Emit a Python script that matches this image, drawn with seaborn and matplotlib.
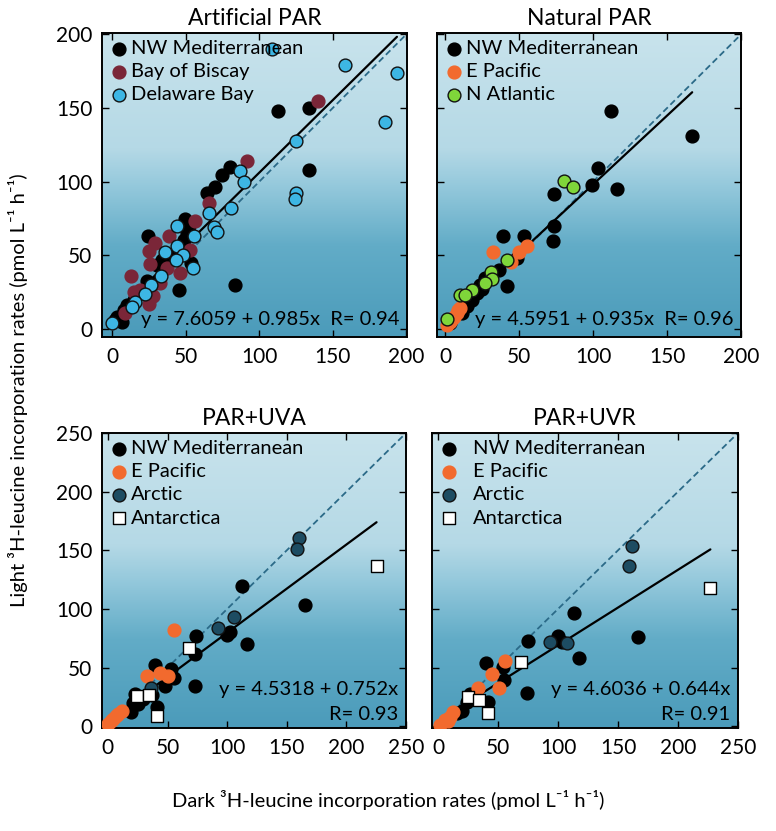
import numpy as np
import pandas as pd
import seaborn as sns
import matplotlib
matplotlib.use("Agg")
from matplotlib import pyplot as plt
from matplotlib.colors import LinearSegmentedColormap

sns.set_theme(style="ticks")
plt.rcParams['font.family'] = ['Lato', 'DejaVu Sans']
plt.rcParams['text.color'] = 'black'
plt.rcParams['xtick.color'] = 'black'
plt.rcParams['ytick.color'] = 'black'

# ---- Artificial PAR
art_med_x = [112.7, 134, 134, 83.7, 45.6, 24.3, 79.8, 74.5, 70, 64.8, 49.7, 50.8, 48.5, 53.5, 39.5,
             33.8, 30.4, 29.3, 23.6, 20.2, 14.5, 10, 8, 3.2, 6.6, 2, 52]
art_med_y = [148.3, 150, 108, 30, 26.5, 62.8, 109.7, 104.3, 96.4, 92.3, 74.8, 65.1, 60.5, 44.7, 49.2,
             47, 43.5, 31, 32.2, 24.3, 19.7, 16.3, 13, 8.4, 4.5, 6.1, 70]
art_bis_x = [139.7, 92, 66, 56, 38.3, 29.3, 24.8, 52.6, 37.2, 46.3, 12.9, 28, 24.8, 19, 8.8, 14.5, 32.6, 26]
art_bis_y = [155, 113.8, 85.5, 73, 62.8, 58.3, 52.6, 53.7, 41.3, 37.9, 35.6, 22, 16.8, 26.5, 10.7, 25, 31, 44]
art_del_x = [109, 158.5, 193.7, 185.7, 125, 125, 124.5, 87, 89.8, 81, 66, 69, 71.2, 55.3, 44, 44, 48,
             43.5, 55, 35.6, 33, 26.3, 22.4, 15.6, 13.4, 0]
art_del_y = [190, 179, 174, 140.4, 127.4, 92.3, 88.2, 107, 99.5, 82, 79, 69, 66, 63.3, 69.6, 56, 50.3,
             47, 41.3, 52, 35.6, 29.5, 23.8, 18.1, 14.7, 4]

# ---- Natural PAR
nat_med_x = [112, 167, 103.6, 99.5, 116.4, 73.9, 73.9, 73.2, 39.4, 53.6, 41.7, 48.9, 36.5, 27, 23.6,
             21.4, 18, 14.6, 11.3, 3.4, 25]
nat_med_y = [148.3, 131.3, 109.3, 97.5, 95, 91.8, 69.6, 59.9, 62.8, 62.8, 28.8, 48.1, 40.1, 34.5, 29.9,
             24.3, 19.7, 15.2, 10.7, 3.9, 27]
nat_pac_x = [32.6, 50, 55.6, 44.4, 10.1, 8, 5.9, 3.6, 1.4, 9, 4.5]
nat_pac_y = [51.9, 51.9, 56.5, 45.1, 14.1, 10.7, 8.4, 5, 2.7, 12.5, 6.5]
nat_atl_x = [80.4, 86.7, 42, 30.9, 31.5, 18, 10.1, 13.5, 1.1, 27]
nat_atl_y = [100.7, 96.1, 47, 38.6, 33.8, 26.5, 22.7, 23, 6.6, 31]

# ---- PAR+UVA
uva_med_x = [112.2, 165.6, 116.4, 73.9, 73.3, 73.3, 99.7, 102.5, 39.2, 53, 55, 48, 36.9, 41.4,
             22.5, 25.3, 19.2, 21, 29.4]
uva_med_y = [119.3, 103.5, 70, 76.6, 62, 34, 78, 80.8, 52.1, 49.2, 40.8, 34.4, 26.7, 16.6,
             27.3, 19.4, 12, 20, 23]
uva_pac_x = [55, 33, 43.3, 50.3, 11.4, 8.6, 4.4, 0.3, 2.5, 6.5]
uva_pac_y = [82.5, 42.5, 45.5, 43, 13.2, 10.5, 6.3, 2.1, 4.2, 8.5]
uva_arc_x = [160, 158.6, 105.8, 91.9, 36.4]
uva_arc_y = [160.2, 151.2, 93, 84, 33]
uva_ant_x = [225.3, 67.8, 24.7, 34.2, 41.1]
uva_ant_y = [136.5, 66.5, 25.5, 27, 9]

# ---- PAR+UVR
uvr_med_x = [113.3, 166.9, 117.8, 75.3, 73.9, 100.3, 103, 40, 53.9, 55.3, 41.9, 26.7, 23.9, 19.7, 15.6]
uvr_med_y = [96.9, 75.8, 58.3, 72.4, 28.7, 77.2, 71.5, 54.1, 50.4, 39.2, 20.9, 27.9, 20.9, 13, 11]
uvr_pac_x = [55.8, 44.7, 33.6, 50.8, 12.8, 10, 5.8, 1.7, 8.6]
uvr_pac_y = [55.5, 44.2, 33, 33, 12.4, 8.2, 5.4, 1.5, 4.5]
uvr_arc_x = [161.9, 159.4, 93.3, 107.2]
uvr_arc_y = [154, 136.5, 71.5, 71]
uvr_ant_x = [227, 68.9, 25.3, 34.4, 41.9]
uvr_ant_y = [118, 54.6, 25.1, 22.8, 11.5]

titles = ["Artificial PAR", "Natural PAR", "PAR+UVA", "PAR+UVR"]
intercepts = [7.6059, 4.5951, 4.5318, 4.6036]
slopes = [0.985, 0.935, 0.752, 0.644]
r_values = [0.94, 0.96, 0.93, 0.91]

# face, edge, marker
styles = {
    "NW Mediterranean": ("black", "black", "o"),
    "Bay of Biscay": ("#7a2638", "#7a2638", "o"),
    "Delaware Bay": ("#3db6e4", "#111111", "o"),
    "E Pacific": ("#f26a2e", "#f26a2e", "o"),
    "N Atlantic": ("#7fd63a", "#111111", "o"),
    "Arctic": ("#1d4c62", "#111111", "o"),
    "Antarctica": ("white", "black", "s"),
}

panels = [
    [("NW Mediterranean", art_med_x, art_med_y), ("Bay of Biscay", art_bis_x, art_bis_y),
     ("Delaware Bay", art_del_x, art_del_y)],
    [("NW Mediterranean", nat_med_x, nat_med_y), ("E Pacific", nat_pac_x, nat_pac_y),
     ("N Atlantic", nat_atl_x, nat_atl_y)],
    [("NW Mediterranean", uva_med_x, uva_med_y), ("E Pacific", uva_pac_x, uva_pac_y),
     ("Arctic", uva_arc_x, uva_arc_y), ("Antarctica", uva_ant_x, uva_ant_y)],
    [("NW Mediterranean", uvr_med_x, uvr_med_y), ("E Pacific", uvr_pac_x, uvr_pac_y),
     ("Arctic", uvr_arc_x, uvr_arc_y), ("Antarctica", uvr_ant_x, uvr_ant_y)],
]

boxes = [
    [0.1314, 0.5945, 0.3930, 0.3658],
    [0.5631, 0.5945, 0.3918, 0.3658],
    [0.1314, 0.1239, 0.3918, 0.3550],
    [0.5567, 0.1239, 0.3943, 0.3550],
]
limits = [(-7, 200.5, -5.5, 201), (-5.5, 200, -5.5, 201), (-5, 250, -1.5, 250), (-5, 250, -1.5, 250)]

bg = LinearSegmentedColormap.from_list(
    "bg", [(0, "#4b9bba"), (0.3, "#62acc7"), (0.5, "#95c9dc"), (0.62, "#b5d9e6"), (1, "#c8e3ec")])

fig = plt.figure(figsize=(7.76, 8.31), dpi=100)

for i, groups in enumerate(panels):
    ax = fig.add_axes(boxes[i])
    x0, x1, y0, y1 = limits[i]
    ax.imshow(np.linspace(0, 1, 256).reshape(-1, 1), cmap=bg, origin="lower", aspect="auto",
              extent=[0, 1, 0, 1], transform=ax.transAxes, zorder=0)

    # 1:1 line
    top = 200 if i < 2 else 250
    sns.lineplot(x=[0, top + 5], y=[0, top + 5], ax=ax, color="#2b6a88", lw=1.3,
                 linestyle=(0, (3.5, 2)), zorder=1)

    all_x = np.concatenate([np.asarray(g[1]) for g in groups])
    fit_x = np.array([all_x.min(), all_x.max()])
    sns.lineplot(x=fit_x, y=intercepts[i] + slopes[i] * fit_x, ax=ax, color="black", lw=1.6, zorder=2)

    for name, xs, ys in groups:
        face, edge, marker = styles[name]
        df = pd.DataFrame({"x": xs, "y": ys})
        sns.scatterplot(data=df, x="x", y="y", ax=ax, color=face, edgecolor=edge, marker=marker,
                        s=85 if marker == "o" else 70, linewidth=1.0, label=name, zorder=3)

    ax.set_xlim(x0, x1)
    ax.set_ylim(y0, y1)
    ticks = np.arange(0, top + 1, 50)
    ax.set_xticks(ticks)
    ax.set_yticks(ticks)
    ax.set_xlabel("")
    ax.set_ylabel("")
    ax.tick_params(direction="in", length=5, width=1, top=True, right=True,
                   labelsize=15, pad=7, labelleft=(i % 2 == 0))
    for sp in ax.spines.values():
        sp.set_linewidth(1.4)
        sp.set_color("black")
    ax.set_title(titles[i], fontsize=16.5, pad=6)

    ax.legend(loc="upper left", frameon=False, fontsize=14.5, handletextpad=0.1 if i < 3 else 0.7,
              labelspacing=0.3, borderaxespad=0.15, borderpad=0.2, handlelength=1.0,
              markerscale=1.0)

    eq = f"y = {intercepts[i]} + {slopes[i]}x"
    if i < 2:
        ax.text(0.975, 0.058, f"{eq}  R= {r_values[i]}", transform=ax.transAxes,
                ha="right", va="center", fontsize=14.5, zorder=4)
    else:
        ax.text(0.975, 0.13, eq, transform=ax.transAxes, ha="right", va="center", fontsize=14.5, zorder=4)
        ax.text(0.975, 0.045, f"R= {r_values[i]}", transform=ax.transAxes, ha="right", va="center",
                fontsize=14.5, zorder=4)

fig.text(0.023, 0.53, "Light ³H-leucine incorporation rates (pmol L⁻¹ h⁻¹)", rotation=90,
         ha="center", va="center", fontsize=14.5)
fig.text(0.5, 0.037, "Dark ³H-leucine incorporation rates (pmol L⁻¹ h⁻¹)",
         ha="center", va="center", fontsize=14.5)

fig.savefig("out.png", dpi=100)
